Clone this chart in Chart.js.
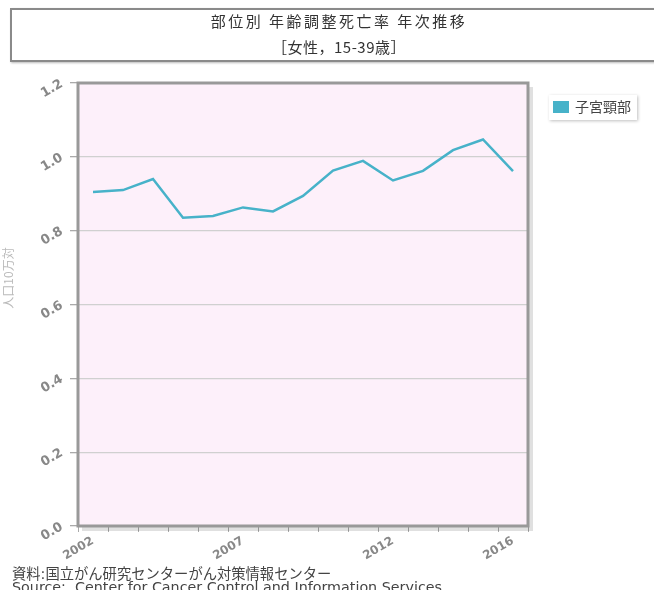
<!DOCTYPE html>
<html><head><meta charset="utf-8">
<script src="https://cdn.jsdelivr.net/npm/chart.js@4/dist/chart.umd.min.js"></script>
<style>
html,body{margin:0;padding:0;background:#fff;overflow:hidden;}
#wrap{position:relative;width:654px;height:590px;}
#titlebox{position:absolute;left:10px;top:8px;width:660px;height:54px;border:2px solid #8a8a8a;box-shadow:1px 1px 2px #bbb;background:#fff;box-sizing:border-box;
 font-family:"Noto Sans CJK JP","DejaVu Sans",sans-serif;font-size:15px;color:#333;text-align:center;line-height:18px;}
#titlebox div{position:absolute;left:0;width:654px;}
#footer{position:absolute;left:12px;top:568px;font-family:"DejaVu Sans","Noto Sans CJK JP",sans-serif;font-size:14.3px;color:#444;line-height:13px;white-space:nowrap;}
canvas{position:absolute;left:0;top:0;}
</style></head>
<body><div id="wrap">
<canvas id="c" width="654" height="590"></canvas>
<div id="titlebox"><div style="top:2px;letter-spacing:2.5px">部位別 年齢調整死亡率 年次推移</div><div style="top:28px;letter-spacing:0.5px">［女性，15-39歳］</div></div>
<div id="footer"><div>資料:国立がん研究センターがん対策情報センター</div><div>Source:&nbsp; Center for Cancer Control and Information Services</div></div>
</div>
<script>
const years = ["2002","2003","2004","2005","2006","2007","2008","2009","2010","2011","2012","2013","2014","2015","2016"];
const shownYearLabels = ["2002","2007","2012","2016"];
const seriesName = "子宮頸部";
const rates = [0.905,0.910,0.940,0.835,0.840,0.863,0.852,0.894,0.963,0.989,0.936,0.962,1.018,1.047,0.961];
const yTitle = "人口10万対";

const framePlugin = {
  id:'frame',
  beforeDraw(chart){
    const {ctx, chartArea:a} = chart;
    ctx.save();
    ctx.fillStyle='#fdf0fa';
    ctx.fillRect(a.left,a.top,a.right-a.left,a.bottom-a.top);
    ctx.restore();
  },
  afterDraw(chart){
    const {ctx, chartArea:a} = chart;
    ctx.save();
    ctx.strokeStyle='rgba(0,0,0,0.12)';
    ctx.lineWidth=4;
    ctx.beginPath();
    ctx.moveTo(a.right+3,a.top+4);ctx.lineTo(a.right+3,a.bottom+3);ctx.lineTo(a.left+4,a.bottom+3);
    ctx.stroke();
    ctx.strokeStyle='#999';
    ctx.lineWidth=3;
    ctx.strokeRect(a.left,a.top,a.right-a.left,a.bottom-a.top);
    // legend
    ctx.fillStyle='#fff';
    ctx.shadowColor='rgba(0,0,0,0.25)';ctx.shadowBlur=3;ctx.shadowOffsetX=1;ctx.shadowOffsetY=1;
    ctx.fillRect(549,95,88,25);
    ctx.shadowColor='transparent';
    ctx.fillStyle='#47b2c9';
    ctx.fillRect(553,101,16,12);
    ctx.fillStyle='#444';
    ctx.font='14px "Noto Sans CJK JP", sans-serif';
    ctx.textBaseline='middle';
    ctx.fillText(seriesName,575,107);
    // y title (partially off canvas)
    ctx.translate(8,278);
    ctx.rotate(-Math.PI/2);
    ctx.fillStyle='#bbb';
    ctx.textAlign='center';
    ctx.font='12px "Noto Sans CJK JP", sans-serif';
    ctx.fillText(yTitle,0,0);
    ctx.restore();
  }
};

new Chart(document.getElementById('c'),{
  type:'line',
  data:{labels:years,datasets:[{label:seriesName,data:rates,borderColor:'#47b2c9',borderWidth:2.5,pointRadius:0,tension:0,fill:false}]},
  options:{
    responsive:false,animation:false,
    layout:{padding:{top:83,right:126,left:0,bottom:0}},
    plugins:{legend:{display:false},tooltip:{enabled:false}},
    scales:{
      x:{
        offset:true,
        grid:{offset:true,drawOnChartArea:false,drawTicks:true,tickLength:6,color:'#aaa',lineWidth:1},
        border:{display:false},
        ticks:{autoSkip:false,minRotation:30,maxRotation:30,color:'#888',padding:2,
          font:{family:'"DejaVu Sans", sans-serif',size:12,weight:'bold'},
          callback:function(v,i){const l=this.getLabelForValue(v);return shownYearLabels.includes(l)?l:'';}},
        afterFit(s){s.height=64;}
      },
      y:{
        min:0,max:1.2,
        grid:{color:'#d0d0d0',lineWidth:1.3,tickLength:8,drawTicks:true,tickColor:'#aaa'},
        border:{display:false},
        ticks:{stepSize:0.2,minRotation:30,maxRotation:30,color:'#888',padding:8,
          font:{family:'"DejaVu Sans", sans-serif',size:13,weight:'bold'},
          callback:v=>v.toFixed(1)},
        afterFit(s){s.width=78;}
      }
    }
  },
  plugins:[framePlugin]
});
</script>
</body></html>
